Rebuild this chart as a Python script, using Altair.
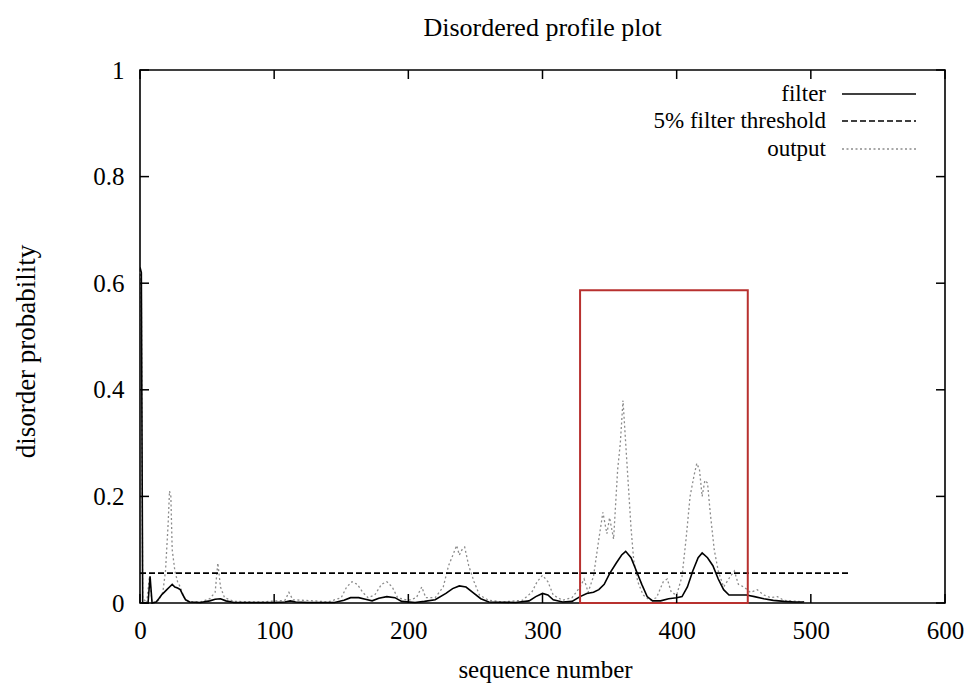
import altair as alt
import pandas as pd

# ---------------- data ----------------
filter_pos = [0, 1, 2, 4, 6, 7.5, 9, 12, 14, 16, 18, 20, 22, 24, 26, 28, 30, 32, 34, 37, 45, 52, 56, 60, 64, 70,
              80, 100, 108, 112, 116, 125, 145, 152, 157, 163, 168, 173, 178, 184, 190, 195, 205, 212, 220, 228,
              233, 238, 243, 248, 254, 260, 280, 290, 295, 300, 304, 308, 315, 322, 328, 333, 338, 342, 346, 350,
              355, 359, 362, 366, 370, 374, 378, 382, 388, 394, 400, 404, 408, 412, 416, 419, 423, 427, 431, 435,
              439, 445, 452, 458, 465, 472, 480, 488, 495]
filter_prob = [0.63, 0.62, 0.0, 0.0, 0.0, 0.05, 0.0, 0.002, 0.008, 0.015, 0.02, 0.025, 0.03, 0.035, 0.03, 0.028,
               0.025, 0.015, 0.006, 0.002, 0.001, 0.004, 0.007, 0.008, 0.004, 0.001, 0.001, 0.001, 0.002, 0.004,
               0.002, 0.001, 0.001, 0.005, 0.01, 0.01, 0.007, 0.004, 0.009, 0.012, 0.01, 0.003, 0.001, 0.003,
               0.006, 0.018, 0.027, 0.032, 0.03, 0.02, 0.008, 0.002, 0.001, 0.004, 0.012, 0.018, 0.015, 0.006,
               0.002, 0.003, 0.012, 0.018, 0.02, 0.025, 0.035, 0.055, 0.075, 0.09, 0.097, 0.085, 0.06, 0.035,
               0.012, 0.004, 0.004, 0.008, 0.01, 0.012, 0.03, 0.06, 0.085, 0.094, 0.085, 0.07, 0.045, 0.025,
               0.015, 0.015, 0.015, 0.012, 0.008, 0.005, 0.003, 0.002, 0.002]

output_pos = [0, 1, 2, 5, 7, 9, 14, 17, 19, 21, 22, 23, 24, 26, 28, 30, 33, 36, 45, 52, 56, 58, 60, 63, 70, 90,
              108, 111, 114, 130, 140, 150, 154, 158, 162, 166, 170, 175, 180, 184, 188, 192, 200, 206, 210, 213,
              220, 226, 230, 234, 236, 238, 240, 242, 245, 249, 253, 260, 270, 285, 292, 296, 300, 304, 308, 315,
              322, 328, 331, 334, 338, 342, 345, 348, 350, 353, 356, 358, 360, 362, 364, 366, 368, 371, 375, 380,
              385, 390, 393, 396, 400, 404, 407, 410, 413, 415, 417, 419, 421, 423, 425, 428, 431, 435, 440, 443,
              446, 450, 455, 460, 465, 470, 475, 480, 490, 495]
output_prob = [0.63, 0.6, 0.01, 0.0, 0.05, 0.0, 0.005, 0.02, 0.06, 0.15, 0.21, 0.2, 0.1, 0.06, 0.04, 0.03, 0.01,
               0.003, 0.002, 0.008, 0.02, 0.075, 0.03, 0.01, 0.003, 0.002, 0.005, 0.02, 0.006, 0.004, 0.002, 0.01,
               0.03, 0.04, 0.035, 0.02, 0.01, 0.015, 0.035, 0.04, 0.03, 0.01, 0.005, 0.01, 0.03, 0.01, 0.01, 0.03,
               0.07, 0.095, 0.108, 0.09, 0.1, 0.105, 0.07, 0.04, 0.015, 0.005, 0.002, 0.005, 0.02, 0.04, 0.052,
               0.04, 0.015, 0.005, 0.01, 0.03, 0.045, 0.02, 0.05, 0.12, 0.17, 0.13, 0.16, 0.12, 0.25, 0.3, 0.38,
               0.3, 0.22, 0.14, 0.08, 0.04, 0.015, 0.005, 0.01, 0.04, 0.045, 0.02, 0.015, 0.05, 0.12, 0.2, 0.24,
               0.262, 0.25, 0.2, 0.23, 0.225, 0.17, 0.1, 0.06, 0.03, 0.05, 0.06, 0.035, 0.03, 0.02, 0.025, 0.015,
               0.01, 0.012, 0.005, 0.003, 0.002]

threshold_pos = [0, 528]
threshold_value = [0.056, 0.056]

box_start, box_end = [328], [453]
box_low, box_high = [0.0], [0.587]

x_ticks = [0, 100, 200, 300, 400, 500, 600]
y_ticks = [0, 0.2, 0.4, 0.6, 0.8, 1]

legend_labels = ["filter", "5% filter threshold", "output"]

# ---------------- chart ----------------
W, H = 805, 533
FONT = "Liberation Serif"
FS_TICK = 25
FS_TITLE = 26
FS_LEG = 23

xs = alt.Scale(domain=[0, 600], nice=False, zero=False)
ys = alt.Scale(domain=[0, 1], nice=False)

x_axis = alt.Axis(values=x_ticks, ticks=False, domain=False, grid=False, labelFlush=False, labelFont=FONT,
                  labelFontSize=FS_TICK, labelColor="black", labelPadding=15, title="sequence number",
                  titleFont=FONT, titleFontSize=25, titleFontWeight="normal", titleColor="black",
                  titleX=405, titleY=66, titleBaseline="middle", titleAlign="center")
y_axis = alt.Axis(values=y_ticks, ticks=False, domain=False, grid=False, labelFlush=False, format="~g",
                  labelFont=FONT, labelFontSize=FS_TICK, labelColor="black", labelPadding=16,
                  title="disorder probability", titleFont=FONT, titleFontSize=27, titleFontWeight="normal",
                  titleColor="black", titleX=-114, titleY=281, titleAngle=270, titleBaseline="middle",
                  titleAlign="center")

filter_df = pd.DataFrame({"pos": filter_pos, "prob": filter_prob})
output_df = pd.DataFrame({"pos": output_pos, "prob": output_prob})
thr_df = pd.DataFrame({"pos": threshold_pos, "prob": threshold_value})
box_df = pd.DataFrame({"x": box_start, "x2": box_end, "y": box_low, "y2": box_high})

output_line = alt.Chart(output_df).mark_line(color="#8c8c8c", strokeWidth=1.3, strokeDash=[2, 2.5]).encode(
    x=alt.X("pos:Q", scale=xs, axis=x_axis), y=alt.Y("prob:Q", scale=ys, axis=y_axis), order="pos:Q")
filter_line = alt.Chart(filter_df).mark_line(color="black", strokeWidth=1.6).encode(
    x=alt.X("pos:Q", scale=xs), y=alt.Y("prob:Q", scale=ys), order="pos:Q")
thr_line = alt.Chart(thr_df).mark_line(color="black", strokeWidth=1.6, strokeDash=[6, 3]).encode(
    x=alt.X("pos:Q", scale=xs), y=alt.Y("prob:Q", scale=ys))
box = alt.Chart(box_df).mark_rect(fill=None, stroke="#b8312f", strokeWidth=2).encode(
    x=alt.X("x:Q", scale=xs), x2="x2:Q", y=alt.Y("y:Q", scale=ys), y2="y2:Q")

# inward ticks on all four sides (gnuplot style)
xt_df = pd.DataFrame({"t": x_ticks})
yt_df = pd.DataFrame({"t": y_ticks})
TL = 9
xt_bottom = alt.Chart(xt_df).mark_rule(color="black", strokeWidth=1.5).encode(
    x=alt.X("t:Q", scale=xs), y=alt.value(H), y2=alt.value(H - TL))
xt_top = alt.Chart(xt_df).mark_rule(color="black", strokeWidth=1.5).encode(
    x=alt.X("t:Q", scale=xs), y=alt.value(0), y2=alt.value(TL))
yt_left = alt.Chart(yt_df).mark_rule(color="black", strokeWidth=1.5).encode(
    y=alt.Y("t:Q", scale=ys), x=alt.value(0), x2=alt.value(TL))
yt_right = alt.Chart(yt_df).mark_rule(color="black", strokeWidth=1.5).encode(
    y=alt.Y("t:Q", scale=ys), x=alt.value(W), x2=alt.value(W - TL))

# legend (gnuplot style: text right-aligned, sample to the right)
leg_styles = [dict(color="black", strokeWidth=1.6),
              dict(color="black", strokeWidth=1.6, strokeDash=[6, 3]),
              dict(color="#8c8c8c", strokeWidth=1.3, strokeDash=[2, 2.5])]
leg_rows = [24, 51, 79]
legend_layers = []
for lab, sty, yy in zip(legend_labels, leg_styles, leg_rows):
    d = pd.DataFrame({"label": [lab]})
    legend_layers.append(alt.Chart(d).mark_text(align="right", baseline="middle", font=FONT, fontSize=FS_LEG,
                                                color="black").encode(
        x=alt.value(686), y=alt.value(yy), text="label:N"))
    legend_layers.append(alt.Chart(d).mark_rule(**sty).encode(
        x=alt.value(702), x2=alt.value(776), y=alt.value(yy)))

chart = alt.layer(output_line, filter_line, thr_line, box, xt_bottom, xt_top, yt_left, yt_right,
                  *legend_layers).properties(
    width=W, height=H,
    title=alt.TitleParams("Disordered profile plot", font=FONT, fontSize=FS_TITLE, fontWeight="normal",
                          color="black", anchor="middle", offset=17),
    autosize=alt.AutoSizeParams(type="none"),
    padding={"left": 132, "top": 62, "right": 20, "bottom": 92},
).configure(background="white").configure_view(stroke="black", strokeWidth=1.6)

chart.save("out.html", embed_options={"renderer": "svg", "actions": False})
